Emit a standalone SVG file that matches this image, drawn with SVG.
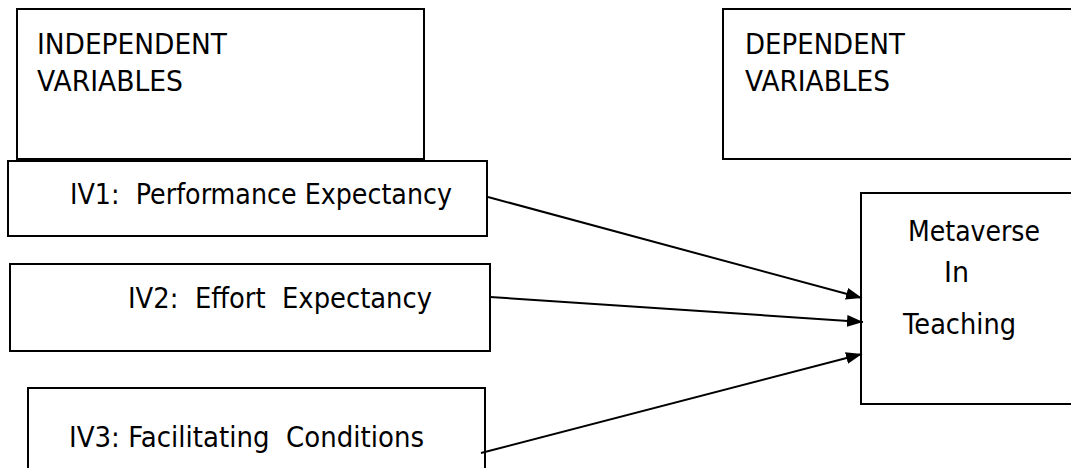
<svg xmlns="http://www.w3.org/2000/svg" width="1071" height="468" viewBox="0 0 1071 468">
<defs>
<style>
.box{fill:#fff;stroke:#000;stroke-width:2}
.t{font-family:"DejaVu Sans","Verdana",sans-serif;font-size:28.5px;fill:#000}
.c{stroke:#000;stroke-width:2;fill:none}
</style>
<marker id="ah" viewBox="0 0 16 12" refX="16" refY="6" markerWidth="16" markerHeight="12" markerUnits="userSpaceOnUse" orient="auto">
<path d="M0,0 L16,6 L0,12 Z" fill="#000"/>
</marker>
</defs>
<rect width="1071" height="468" fill="#fff"/>
<g id="independent-header">
<rect class="box" x="17" y="9" width="407" height="150"/>
<text class="t" x="37" y="54" textLength="190" lengthAdjust="spacingAndGlyphs">INDEPENDENT</text>
<text class="t" x="37" y="91" textLength="146" lengthAdjust="spacingAndGlyphs">VARIABLES</text>
</g>
<g id="dependent-header">
<rect class="box" x="723" y="9" width="400" height="150"/>
<text class="t" x="745" y="54" textLength="160" lengthAdjust="spacingAndGlyphs">DEPENDENT</text>
<text class="t" x="745" y="91" textLength="145" lengthAdjust="spacingAndGlyphs">VARIABLES</text>
</g>
<g id="iv1">
<rect class="box" x="8" y="161" width="479" height="75"/>
<text class="t" x="70" y="204" textLength="382" lengthAdjust="spacingAndGlyphs" xml:space="preserve">IV1:  Performance Expectancy</text>
</g>
<g id="iv2">
<rect class="box" x="10" y="264" width="480" height="87"/>
<text class="t" x="128" y="308" textLength="304" lengthAdjust="spacingAndGlyphs" xml:space="preserve">IV2:  Effort  Expectancy</text>
</g>
<g id="iv3">
<rect class="box" x="28" y="388" width="457" height="100"/>
<text class="t" x="69" y="447" textLength="355" lengthAdjust="spacingAndGlyphs" xml:space="preserve">IV3: Facilitating  Conditions</text>
</g>
<g id="dv">
<rect class="box" x="861" y="193" width="300" height="211"/>
<text class="t" x="908" y="241" textLength="132" lengthAdjust="spacingAndGlyphs">Metaverse</text>
<text class="t" x="944" y="282" textLength="25" lengthAdjust="spacingAndGlyphs">In</text>
<text class="t" x="903" y="334" textLength="113" lengthAdjust="spacingAndGlyphs">Teaching</text>
</g>
<g id="connectors">
<line class="c" x1="488" y1="197" x2="862" y2="298" marker-end="url(#ah)"/>
<line class="c" x1="490" y1="297" x2="863" y2="322" marker-end="url(#ah)"/>
<line class="c" x1="481" y1="453" x2="862" y2="354" marker-end="url(#ah)"/>
</g>
</svg>
